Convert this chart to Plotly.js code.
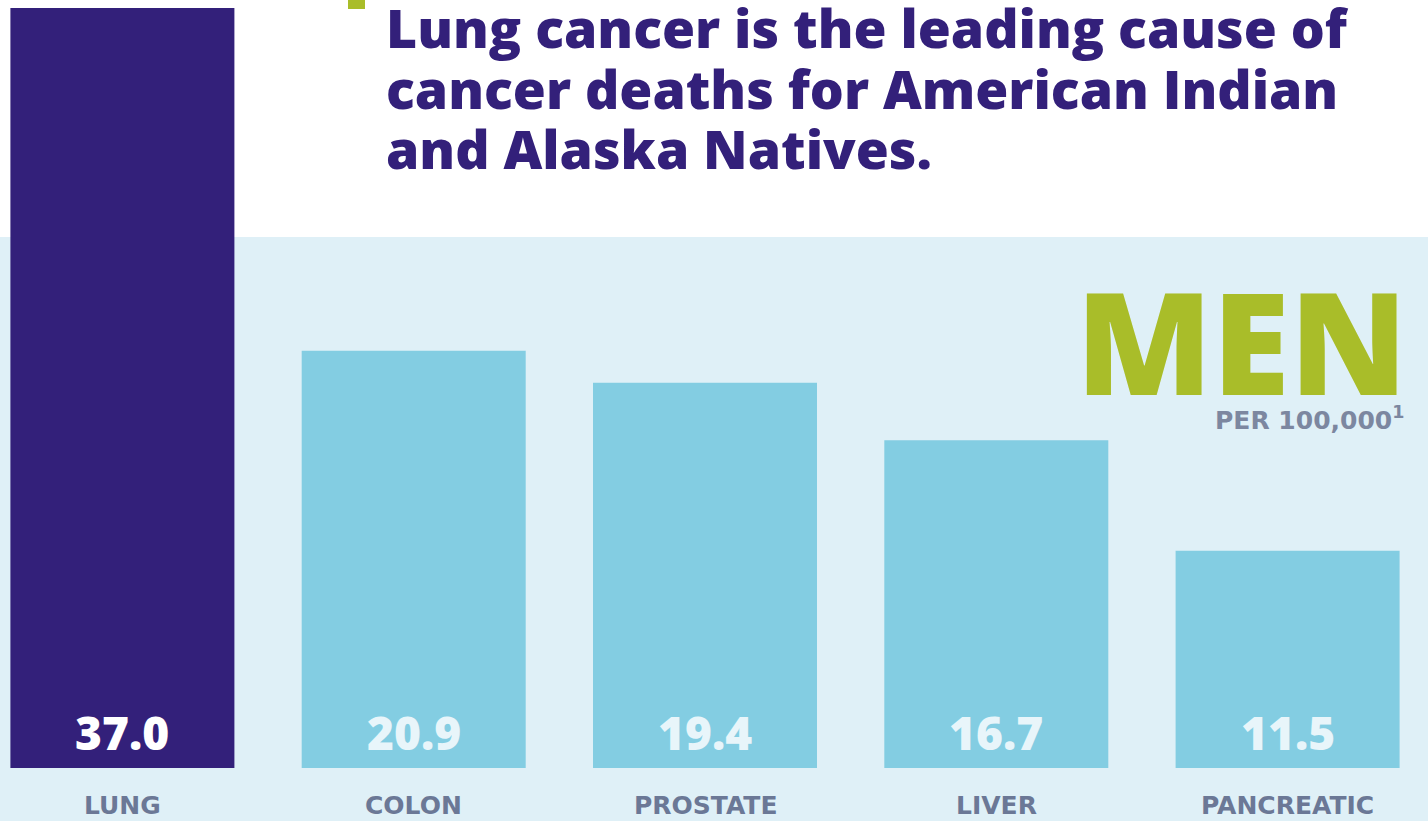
<!DOCTYPE html>
<html><head><meta charset="utf-8">
<script src="https://cdn.plot.ly/plotly-3.0.1.min.js"></script>
<style>html,body{margin:0;padding:0;background:#fff;}#chart{width:1428px;height:821px;}</style>
</head><body><div id="chart"></div>
<script>
// Data
var categories = ["LUNG", "COLON", "PROSTATE", "LIVER", "PANCREATIC"];
var deathRates = [37.0, 20.9, 19.4, 16.7, 11.5];
var barColors = ["#33207a", "#83cde2", "#83cde2", "#83cde2", "#83cde2"];
var valueColors = ["#ffffff", "#e8f5fa", "#e8f5fa", "#e8f5fa", "#e8f5fa"];
var titleLines = ["Lung cancer is the leading cause of", "cancer deaths for American Indian", "and Alaska Natives."];

var W = 1428, H = 821, plotTop = 8, plotBottom = 768;
function py(pix){ return (plotBottom - pix) / (plotBottom - plotTop); }
function px(pix){ return pix / W; }

var xs = categories.map(function(_, i){ return i; });
var FONT = "'Open Sans', sans-serif";
var LABEL_FONT = "'DejaVu Sans', sans-serif";

var annotations = [];
categories.forEach(function(c, i){
  annotations.push({x: i, xref: 'x', y: py(805), yref: 'paper', text: c, showarrow: false,
    xanchor: 'center', yanchor: 'middle', font: {family: LABEL_FONT, size: 25, weight: 700, color: '#6b7896'}});
  annotations.push({x: i, xref: 'x', y: py(732), yref: 'paper', text: deathRates[i].toFixed(1), showarrow: false,
    xanchor: 'center', yanchor: 'middle', font: {family: FONT, size: 46, weight: 800, color: valueColors[i]}});
});
var titleCenters = [27, 88, 148];
titleLines.forEach(function(t, k){
  annotations.push({x: px(384), xref: 'paper', y: py(titleCenters[k]), yref: 'paper', text: t, showarrow: false,
    xanchor: 'left', yanchor: 'middle', font: {family: FONT, size: 53.5, weight: 800, color: '#33207a'}});
});
annotations.push({x: px(1409), xref: 'paper', y: py(340), yref: 'paper', text: 'MEN', showarrow: false,
  xanchor: 'right', yanchor: 'middle', font: {family: FONT, size: 141, weight: 800, color: '#a9bd29'}});
annotations.push({x: px(1406), xref: 'paper', y: py(419), yref: 'paper', text: 'PER 100,000<sup>1</sup>', showarrow: false,
  xanchor: 'right', yanchor: 'middle', font: {family: LABEL_FONT, size: 25, weight: 700, color: '#7c87a0'}});

var trace = {
  type: 'bar', x: xs, y: deathRates, width: 0.769,
  marker: {color: barColors, line: {width: 0}},
  hoverinfo: 'skip'
};

var layout = {
  width: W, height: H,
  margin: {l: 0, r: 0, t: plotTop, b: H - plotBottom, pad: 0},
  paper_bgcolor: '#ffffff', plot_bgcolor: 'rgba(0,0,0,0)',
  showlegend: false,
  xaxis: {range: [-122.4/291.3, (W-122.4)/291.3], showgrid: false, zeroline: false, showticklabels: false, ticks: '', showline: false, fixedrange: true},
  yaxis: {range: [1.3, 37.0], showgrid: false, zeroline: false, showticklabels: false, ticks: '', showline: false, fixedrange: true},
  shapes: [
    {type: 'rect', xref: 'paper', yref: 'paper', x0: 0, x1: 1, y0: py(H), y1: py(237), fillcolor: '#dff0f7', line: {width: 0}, layer: 'below'},
    {type: 'rect', xref: 'paper', yref: 'paper', x0: px(348), x1: px(365), y0: py(9), y1: py(0), fillcolor: '#a9bd29', line: {width: 0}, layer: 'above'}
  ],
  annotations: annotations
};

Plotly.newPlot('chart', [trace], layout, {displayModeBar: false, staticPlot: true});
</script></body></html>
